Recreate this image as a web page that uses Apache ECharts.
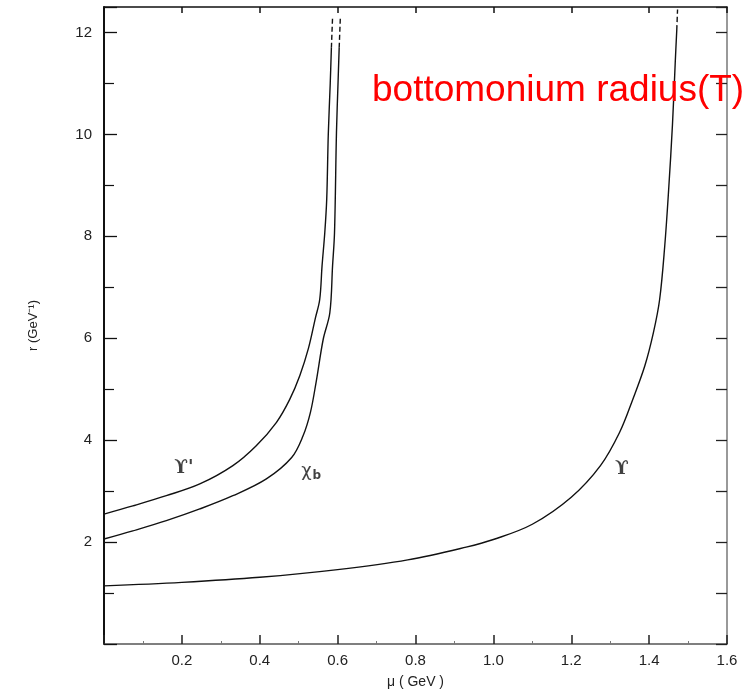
<!DOCTYPE html>
<html>
<head>
<meta charset="utf-8">
<script src="https://cdn.jsdelivr.net/npm/echarts@6/dist/echarts.min.js"></script>
<style>html,body{margin:0;padding:0;background:#fff;}#c{width:753px;height:694px;}</style>
</head>
<body>
<div id="c"></div>
<script>
// μ (GeV), r (GeV^-1)
const upsilonPrime = [[0,2.55],[0.074,2.71],[0.16,2.91],[0.246,3.14],[0.331,3.5],[0.391,3.89],[0.443,4.35],[0.477,4.8],[0.503,5.27],[0.525,5.8],[0.543,6.4],[0.554,6.76],[0.560,7.42],[0.567,8.07],[0.572,8.73],[0.576,10.0],[0.581,11.0],[0.584,11.7]];
const upsilonPrimeTop = [[0.584,11.7],[0.587,12.3]];
const chiB = [[0,2.06],[0.074,2.22],[0.16,2.42],[0.246,2.65],[0.331,2.91],[0.417,3.24],[0.482,3.66],[0.511,4.08],[0.530,4.54],[0.545,5.15],[0.563,5.98],[0.580,6.5],[0.587,7.42],[0.592,8.07],[0.597,10.03],[0.601,11.0],[0.604,11.7]];
const chiBTop = [[0.604,11.7],[0.607,12.3]];
const upsilon = [[0,1.14],[0.2,1.21],[0.4,1.31],[0.6,1.46],[0.78,1.65],[0.93,1.9],[1.0,2.05],[1.1,2.35],[1.2,2.88],[1.275,3.5],[1.324,4.15],[1.358,4.8],[1.389,5.46],[1.411,6.11],[1.427,6.76],[1.44,7.8],[1.45,8.9],[1.46,10.2],[1.467,11.4],[1.471,12.05]];
const upsilonTop = [[1.471,12.05],[1.473,12.45]];
const curveLabels = [
  {name: "ϒ'", value: [0.205, 3.45]},
  {name: "chi", value: [0.532, 3.38]},
  {name: "ϒ", value: [1.33, 3.43]}
];
const xTicks = [0.2,0.4,0.6,0.8,1.0,1.2,1.4,1.6];
const yTicks = [2,4,6,8,10,12];

const chart = echarts.init(document.getElementById('c'));
const lineStyle = {color:'#111', width:1.4};
function lineSeries(data, dashed) {
  return {type:'line', data:data, showSymbol:false, symbol:'none', smooth:0.35,
    lineStyle: Object.assign({}, lineStyle, dashed ? {type:[5,3]} : {}), silent:true, animation:false, z:3};
}
const font = 'Liberation Sans, Arial, sans-serif';
chart.setOption({
  animation:false,
  backgroundColor:'#fff',
  title:{text:'bottomonium radius(T)', left:367, top:67,
    textStyle:{color:'#ff0000', fontSize:37, fontWeight:'normal', fontFamily:font}, z:10},
  grid:{left:104, right:26, top:7, bottom:49, containLabel:false},
  xAxis:[{
    type:'value', min:0, max:1.6, interval:0.2, position:'bottom',
    axisLine:{onZero:false, lineStyle:{color:'#555', width:1.5}},
    axisTick:{inside:true, length:9, lineStyle:{color:'#222', width:1.5}},
    minorTick:{show:true, splitNumber:2, length:3, lineStyle:{color:'#777'}},
    axisLabel:{margin:9, fontSize:15, color:'#222', fontFamily:font,
      formatter:v => xTicks.some(t => Math.abs(t-v)<1e-6) ? v.toFixed(1) : ''},
    splitLine:{show:false},
    name:'μ ( GeV )', nameLocation:'middle', nameGap:31,
    nameTextStyle:{fontSize:14, color:'#222', fontFamily:font}
  },{
    type:'value', min:0, max:1.6, interval:0.2, position:'top',
    axisLine:{onZero:false, lineStyle:{color:'#111', width:1.5}},
    axisTick:{inside:true, length:6, lineStyle:{color:'#111', width:1.5}},
    axisLabel:{show:false}, splitLine:{show:false}
  }],
  yAxis:[{
    type:'value', min:0, max:12.5, interval:2, position:'left',
    axisLine:{onZero:false, lineStyle:{color:'#111', width:2}},
    axisTick:{inside:true, length:13, lineStyle:{color:'#111', width:1.3}},
    minorTick:{show:true, splitNumber:2, length:10, lineStyle:{color:'#111', width:1.2}},
    axisLabel:{margin:12, fontSize:15, color:'#222', fontFamily:font,
      formatter:v => yTicks.indexOf(v) >= 0 ? String(v) : ''},
    splitLine:{show:false},
    name:'r (GeV⁻¹)', nameLocation:'middle', nameGap:64, nameRotate:90,
    nameTextStyle:{fontSize:13, color:'#222', fontFamily:font}
  },{
    type:'value', min:0, max:12.5, interval:1, position:'right',
    axisLine:{onZero:false, lineStyle:{color:'#777', width:1.5}},
    axisTick:{inside:true, length:11, lineStyle:{color:'#222', width:1.3}},
    axisLabel:{show:false}, splitLine:{show:false}
  }],
  series:[
    lineSeries(upsilonPrime, false),
    lineSeries(upsilonPrimeTop, true),
    lineSeries(chiB, false),
    lineSeries(chiBTop, true),
    lineSeries(upsilon, false),
    lineSeries(upsilonTop, true),
    {type:'scatter', data:curveLabels, symbolSize:0, silent:true, z:4,
      label:{show:true, position:'inside', color:'#111',
        formatter:p => p.name === 'chi' ? '{a|χ}{b|b}' : '{u|' + p.name + '}',
        rich:{
          a:{fontSize:18, fontFamily:'DejaVu Sans, sans-serif', color:'#111'},
          b:{fontSize:12, fontFamily:'DejaVu Sans, sans-serif', color:'#111', fontWeight:'bold', padding:[8,0,0,1]},
          u:{fontSize:18, fontFamily:'DejaVu Serif, serif', color:'#111', fontWeight:'bold'}
        }}}
  ]
});
</script>
</body>
</html>
